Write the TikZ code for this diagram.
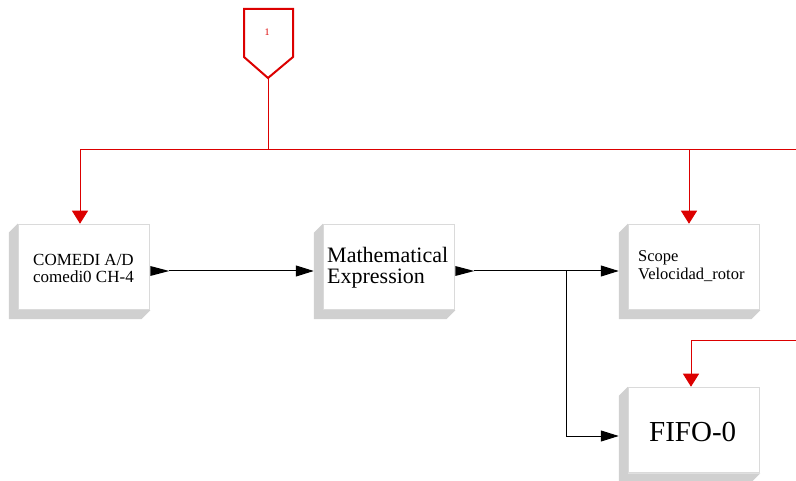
\documentclass[tikz,border=0pt]{standalone}
\usepackage{fontspec}
\setmainfont{Liberation Serif}
\usetikzlibrary{arrows.meta,calc,backgrounds}
\definecolor{shadowgray}{RGB}{208,208,208}
\definecolor{rim}{RGB}{218,218,218}
\definecolor{wire}{RGB}{220,0,0}
\tikzset{
  blk/.style={draw=rim, line width=1.5pt, fill=white, minimum width=131pt, minimum height=85pt, inner sep=0pt},
  lbl/.style={anchor=base west, inner sep=0pt},
  sig/.style={draw=black, line width=1pt, -{Triangle[length=18pt,width=11pt]}},
  ctl/.style={draw=wire, line width=1pt, -{Triangle[length=13pt,width=16pt]}},
  wireline/.style={draw=wire, line width=1pt},
  port/.style={fill=black},
}
\newcommand{\blkshadow}[1]{%
  \fill[shadowgray] (#1.north west) -- ++(-9,9) -- ($(#1.south west)+(-9,9)$) -- ($(#1.south east)+(-9,9)$) -- (#1.south east) -- (#1.south west) -- cycle;}
\newcommand{\outport}[2]{%
  \fill[port] ($(#1.east)+(0,-1)$) -- (#2) -- ($(#1.east)+(0,9)$) -- cycle;}
\begin{document}
\begin{tikzpicture}[x=1pt,y=-1pt]
\useasboundingbox (0,0) rectangle (796,481);
% blocks
\node[blk] (b1) at (84,267) {};
\node[blk] (b2) at (389,267) {};
\node[blk] (b3) at (694,267) {};
\node[blk] (b4) at (694,430) {};
\begin{scope}[on background layer]
  \blkshadow{b1}\blkshadow{b2}\blkshadow{b3}\blkshadow{b4}
\end{scope}
% labels
\node[lbl] (t1) at (33,266) {\fontsize{17}{16}\selectfont\begin{tabular}[t]{@{}l@{}}COMEDI A/D\\comedi0 CH-4\end{tabular}};
\node[lbl] (t2) at (327,263) {\fontsize{22}{20}\selectfont\begin{tabular}[t]{@{}l@{}}Mathematical\\Expression\end{tabular}};
\node[lbl] (t3) at (638,262) {\fontsize{16.5}{18}\selectfont\begin{tabular}[t]{@{}l@{}}Scope\\Velocidad\_rotor\end{tabular}};
\node[lbl] (t4) at (649,441) {\fontsize{29}{32}\selectfont FIFO-0};
% output ports
\coordinate (p1) at ($(b1.east)+(19,4)$);
\coordinate (p2) at ($(b2.east)+(19,4)$);
\outport{b1}{p1}
\outport{b2}{p2}
% signal connectors
\coordinate (br) at (566,271);
\draw[sig] (p1) -- ($(b2.west)+(-9,4)$);
\draw[sig] (p2) -- ($(b3.west)+(-9,4)$);
\draw[sig] (br) |- ($(b4.west)+(-9,6)$);
% event input pentagon
\draw[wire, line width=2pt, line join=miter] (244,9) -- (293,9) -- (293,57) -- (268,78) -- (244,57) -- cycle;
\coordinate (tip) at (268,78);
\node[text=wire, inner sep=0pt] (n1) at (267,32) {\fontsize{10}{11}\selectfont 1};
% red control lines
\coordinate (bus) at (268,150);
\coordinate (busL) at (80,150);
\coordinate (busR) at (796,150);
\coordinate (busS) at (689,150);
\draw[wireline] (tip) -- (bus);
\draw[wireline] (busL) -- (busR);
\draw[ctl] (busL) -- (b1.north -| busL);
\draw[ctl] (busS) -- (b3.north -| busS);
\coordinate (in2) at (796,341);
\coordinate (c2) at (691,341);
\draw[ctl] (in2) -- (c2) -- (b4.north -| c2);
\end{tikzpicture}
\end{document}
